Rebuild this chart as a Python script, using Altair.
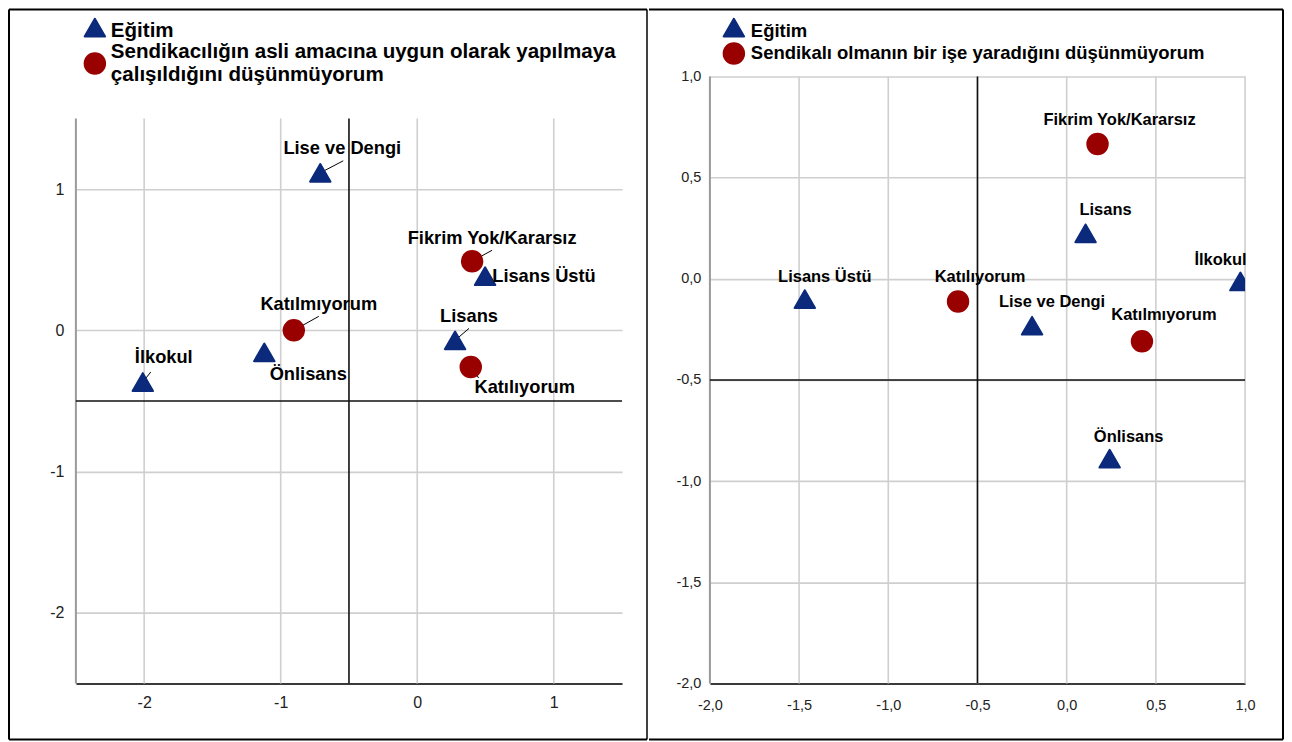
import altair as alt
import pandas as pd

# ---------------- data ----------------
EGITIM = "Eğitim"
SORU_SOL = "Sendikacılığın asli amacına uygun olarak yapılmaya\nçalışıldığını düşünmüyorum"
SORU_SAG = "Sendikalı olmanın bir işe yaradığını düşünmüyorum"

sol_etiket = ["Lise ve Dengi", "İlkokul", "Önlisans", "Lisans", "Lisans Üstü",
              "Katılmıyorum", "Katılıyorum", "Fikrim Yok/Kararsız"]
sol_grup = [EGITIM] * 5 + [SORU_SOL] * 3
sol_x = [-0.710, -2.010, -1.120, 0.277, 0.497, -0.904, 0.392, 0.402]
sol_y = [1.115, -0.366, -0.156, -0.071, 0.383, 0.000, -0.260, 0.489]

sag_etiket = ["Lisans Üstü", "Lise ve Dengi", "Lisans", "İlkokul", "Önlisans",
              "Katılıyorum", "Katılmıyorum", "Fikrim Yok/Kararsız"]
sag_grup = [EGITIM] * 5 + [SORU_SAG] * 3
sag_x = [-1.468, -0.194, 0.106, 0.974, 0.241, -0.609, 0.422, 0.173]
sag_y = [-0.100, -0.232, 0.225, -0.013, -0.889, -0.112, -0.309, 0.666]

sol_tikler = [-2, -1, 0, 1]
sol_aralik = [-2.5, 1.5]
sag_tikler = [-2.0, -1.5, -1.0, -0.5, 0.0, 0.5, 1.0]
sag_aralik = [-2.0, 1.0]

# ---------------- styles ----------------
NAVY = "#0c2a7c"
RED = "#990000"
FONT = "Liberation Sans"
GRID = "#cfcfcf"

# label offsets from marker (pixels)
SOL_LABEL_OFF = {
    "Lise ve Dengi": (22, -24), "İlkokul": (21, -24), "Önlisans": (44, 23),
    "Lisans": (14, -23), "Lisans Üstü": (59, 1), "Katılmıyorum": (25, -25),
    "Katılıyorum": (54, 21), "Fikrim Yok/Kararsız": (20, -22),
}
SOL_LEADER = {
    "Lise ve Dengi": (23, -12), "İlkokul": (8, -10), "Önlisans": (9, 9),
    "Lisans": (14, -12), "Katılmıyorum": (25, -14), "Katılıyorum": (8, 11),
    "Fikrim Yok/Kararsız": (20, -11),
}
SAG_LABEL_OFF = {
    "Fikrim Yok/Kararsız": (22, -24), "Lisans": (20, -23), "İlkokul": (-20, -21),
    "Lisans Üstü": (20, -22), "Katılıyorum": (22, -25), "Lise ve Dengi": (20, -24),
    "Katılmıyorum": (22, -26), "Önlisans": (19, -22),
}

PANEL_H = 608  # both plot areas share one top line


def build_panel(etiket, grup, xs, ys, tikler, aralik, w, data_h, label_off, leader,
                soru, label_expr, tick_fs, label_fs, legend_fs, legend_pos, border,
                xlab_pad, ylab_pad):
    # the data range [aralik] fills data_h pixels; the plot area may be taller on top
    xdom = aralik
    ytop = aralik[0] + (aralik[1] - aralik[0]) * PANEL_H / data_h
    ydom = [aralik[0], ytop]
    sx = (xdom[1] - xdom[0]) / w
    sy = (ydom[1] - ydom[0]) / PANEL_H
    df = pd.DataFrame({"etiket": etiket, "grup": grup, "x": xs, "y": ys})
    df["lx"] = [x + label_off[e][0] * sx for x, e in zip(xs, etiket)]
    df["ly"] = [y - label_off[e][1] * sy for y, e in zip(ys, etiket)]

    def X(field):
        return alt.X(f"{field}:Q", scale=alt.Scale(domain=xdom, nice=False, zero=False),
                     axis=alt.Axis(values=tikler, title=None, grid=False,
                                   domainColor="#3a3a3a", domainWidth=2,
                                   ticks=False, labelPadding=xlab_pad, labelFont=FONT,
                                   labelFontSize=tick_fs, labelColor="#222222",
                                   labelFlush=False, labelOverlap=False,
                                   labelExpr=label_expr))

    def Y(field):
        return alt.Y(f"{field}:Q", scale=alt.Scale(domain=ydom, nice=False, zero=False),
                     axis=alt.Axis(values=tikler, title=None, grid=True, gridColor=GRID,
                                   gridWidth=1.6, domain=False,
                                   ticks=False, labelPadding=ylab_pad, labelFont=FONT,
                                   labelFontSize=tick_fs, labelColor="#222222",
                                   labelFlush=False, labelOverlap=False,
                                   labelExpr=label_expr))

    dom = [EGITIM, soru]
    color = alt.Color("grup:N", scale=alt.Scale(domain=dom, range=[NAVY, RED]), legend=None)
    shape = alt.Shape("grup:N", scale=alt.Scale(domain=dom, range=["triangle-up", "circle"]),
                      legend=None)
    stroke = alt.Stroke("grup:N", scale=alt.Scale(domain=dom, range=[NAVY, RED]), legend=None)

    layers = []
    tik_df = pd.DataFrame({"t": tikler})
    # vertical grid lines, limited to the data range
    layers.append(alt.Chart(tik_df).mark_rule(color=GRID, strokeWidth=1.6)
                  .encode(x=X("t"), y=alt.datum(aralik[0]), y2=alt.datum(aralik[1])))
    # left axis line
    layers.append(alt.Chart(pd.DataFrame({"v": [aralik[0]]})).mark_rule(color="#9a9a9a", strokeWidth=2)
                  .encode(x=X("v"), y=alt.datum(aralik[0]), y2=alt.datum(aralik[1])))
    # reference lines at -0.5
    ref = pd.DataFrame({"v": [-0.5]})
    layers.append(alt.Chart(ref).mark_rule(color="#111111", strokeWidth=1.6)
                  .encode(x=X("v"), y=alt.datum(aralik[0]), y2=alt.datum(aralik[1])))
    layers.append(alt.Chart(ref).mark_rule(color="#111111", strokeWidth=1.6)
                  .encode(y=Y("v")))
    # leader lines
    if leader:
        ld = df[df["etiket"].isin(leader.keys())].copy()
        ld["x2"] = [x + leader[e][0] * sx for x, e in zip(ld["x"], ld["etiket"])]
        ld["y2"] = [y - leader[e][1] * sy for y, e in zip(ld["y"], ld["etiket"])]
        layers.append(alt.Chart(ld).mark_rule(color="black", strokeWidth=1)
                      .encode(x=X("x"), y=Y("y"), x2="x2:Q", y2="y2:Q"))
    # points
    layers.append(alt.Chart(df).mark_point(filled=True, size=420, opacity=1, strokeWidth=2,
                                           strokeJoin="round", clip=True)
                  .encode(x=X("x"), y=Y("y"), color=color, shape=shape, stroke=stroke))
    # labels
    layers.append(alt.Chart(df).mark_text(font=FONT, fontWeight="bold", fontSize=label_fs,
                                          color="black", align="center", baseline="middle")
                  .encode(x=X("lx"), y=Y("ly"), text="etiket:N"))

    # legend (symbols coloured through the same scales)
    for g, (sxp, syp, txp, typ) in zip(dom, legend_pos):
        ldf = pd.DataFrame({"grup": [g]})
        layers.append(alt.Chart(ldf).mark_point(filled=True, size=420, opacity=1, strokeWidth=2,
                                                strokeJoin="round")
                      .encode(x=alt.value(sxp), y=alt.value(syp), color=color, shape=shape,
                              stroke=stroke))
        layers.append(alt.Chart(ldf).mark_text(font=FONT, fontWeight="bold", fontSize=legend_fs,
                                               color="black", align="left", baseline="middle",
                                               lineBreak="\n", lineHeight=23)
                      .encode(x=alt.value(txp), y=alt.value(typ), text="grup:N"))

    # cell border
    bl, bt, br, bb, wl, wr = border
    one = pd.DataFrame({"k": [0]})
    layers.append(alt.Chart(one).mark_rule(color="black", strokeWidth=wl)
                  .encode(x=alt.value(bl), y=alt.value(bt), y2=alt.value(bb)))
    layers.append(alt.Chart(one).mark_rule(color="black", strokeWidth=wr)
                  .encode(x=alt.value(br), y=alt.value(bt), y2=alt.value(bb)))
    layers.append(alt.Chart(one).mark_rule(color="black", strokeWidth=2)
                  .encode(y=alt.value(bt), x=alt.value(bl), x2=alt.value(br)))
    layers.append(alt.Chart(one).mark_rule(color="black", strokeWidth=2)
                  .encode(y=alt.value(bb), x=alt.value(bl), x2=alt.value(br)))

    return alt.layer(*layers).properties(width=w, height=PANEL_H)


int_expr = "datum.value < 0 ? '-' + format(-datum.value, 'd') : format(datum.value, 'd')"
dec_expr = "(datum.value < 0 ? '-' : '') + replace(format(abs(datum.value), '.1f'), '.', ',')"

sol = build_panel(sol_etiket, sol_grup, sol_x, sol_y, sol_tikler, sol_aralik,
                  547, 566, SOL_LABEL_OFF, SOL_LEADER, SORU_SOL, int_expr,
                  16, 18.3, 20.6,
                  [(19, -49, 35, -46), (19, -13, 35, -24)],
                  (-67, -67, 572, 664, 2, 1.5), 11, 12)
sag = build_panel(sag_etiket, sag_grup, sag_x, sag_y, sag_tikler, sag_aralik,
                  536, 608, SAG_LABEL_OFF, None, SORU_SAG, dec_expr,
                  14.5, 16.5, 18.5,
                  [(24, -49, 41, -46), (24, -23, 41, -23)],
                  (-61, -67, 574, 664, 0.01, 2), 15, 9)

chart = (alt.hconcat(sol, sag, spacing=0)
         .resolve_scale(x="independent", y="independent", color="independent",
                        shape="independent", stroke="independent")
         .configure_view(stroke=None)
         .properties(padding=0, background="white"))

chart.save("out.html", embed_options={"renderer": "svg", "actions": False})
